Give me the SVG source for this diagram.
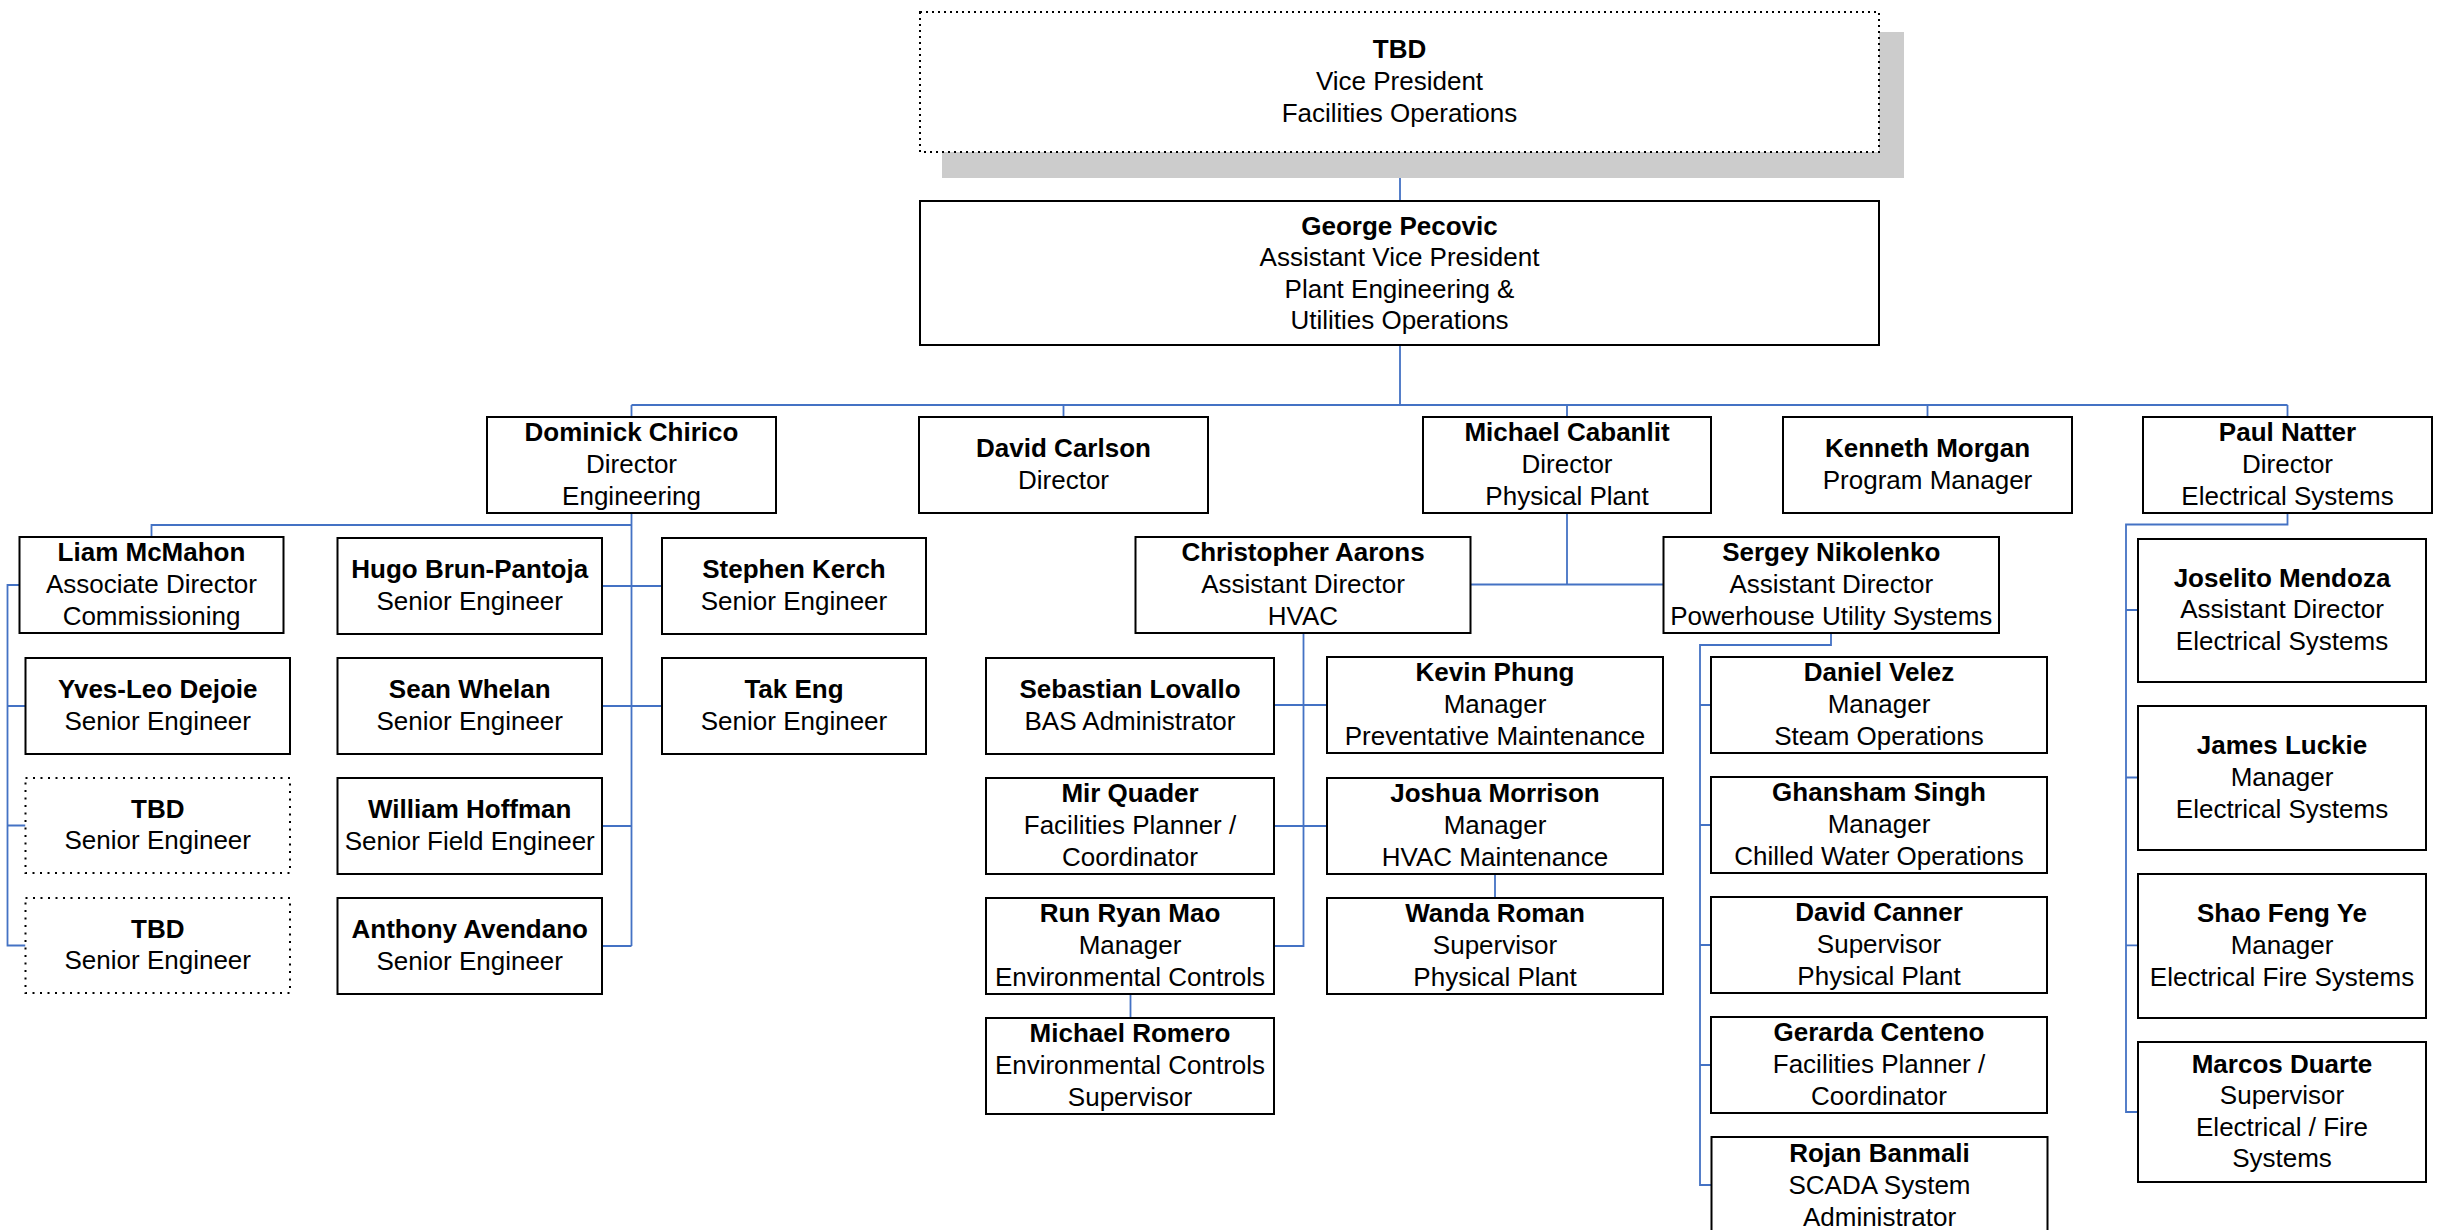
<svg xmlns="http://www.w3.org/2000/svg" width="2446" height="1230" viewBox="0 0 2446 1230">
<style>
.box{fill:#fff;stroke:#000;stroke-width:2}
.dot{fill:#fff;stroke:#000;stroke-width:2;stroke-dasharray:2 5.5}
.vdot{fill:#fff;stroke:#000;stroke-width:2;stroke-dasharray:2 4}
.shadow{fill:#cccccc}
.ln{fill:none;stroke:#4472C4;stroke-width:1.8}
text{font-family:"Liberation Sans",Arial,sans-serif;font-size:26px;text-anchor:middle;fill:#000}
.b{font-weight:bold}
</style>
<rect width="2446" height="1230" fill="#fff"/>
<g id="connectors">
<path class="ln" d="M1400 152V201M1400 345V405M631.5 405H2287.5M631.5 405V417M1063.5 405V417M1567 405V417M1927.5 405V417M2287.5 405V417"/>
<path class="ln" d="M631.5 513V946M631.5 525H151.5V537M602 586H662M602 706H662M602 826H631.5M602 946H631.5"/>
<path class="ln" d="M19.5 585H7.5V945.5H25.5M7.5 706H25.5M7.5 825.5H25.5"/>
<path class="ln" d="M1567 513V584.5M1470.5 584.5H1663.5"/>
<path class="ln" d="M1303.5 633V946H1274M1274 705H1327M1274 826H1327M1495 874V898M1130.5 994V1018"/>
<path class="ln" d="M1831 633V645H1700V1185H1711.5M1700 705H1711M1700 825H1711M1700 945H1711M1700 1065H1711"/>
<path class="ln" d="M2287.5 513V524.5H2126V1112H2138M2126 610H2138M2126 777.5H2138M2126 945.3H2138"/>
</g>
<g id="vp">
<rect class="shadow" x="942" y="32" width="962" height="146"/>
<rect class="vdot" x="920" y="12" width="959" height="140"/>
<text x="1399.5" y="58.4" class="b">TBD</text>
<text x="1399.5" y="90">Vice President</text>
<text x="1399.5" y="121.6">Facilities Operations</text>
</g>
<g id="george">
<rect class="box" x="920" y="201" width="959" height="144"/>
<text x="1399.5" y="234.6" class="b">George Pecovic</text>
<text x="1399.5" y="266.2">Assistant Vice President</text>
<text x="1399.5" y="297.8">Plant Engineering &amp;</text>
<text x="1399.5" y="329.4">Utilities Operations</text>
</g>
<g id="dominick">
<rect class="box" x="487" y="417" width="289" height="96"/>
<text x="631.5" y="441.4" class="b">Dominick Chirico</text>
<text x="631.5" y="473">Director</text>
<text x="631.5" y="504.6">Engineering</text>
</g>
<g id="carlson">
<rect class="box" x="919" y="417" width="289" height="96"/>
<text x="1063.5" y="457.2" class="b">David Carlson</text>
<text x="1063.5" y="488.8">Director</text>
</g>
<g id="cabanlit">
<rect class="box" x="1423" y="417" width="288" height="96"/>
<text x="1567" y="441.4" class="b">Michael Cabanlit</text>
<text x="1567" y="473">Director</text>
<text x="1567" y="504.6">Physical Plant</text>
</g>
<g id="morgan">
<rect class="box" x="1783" y="417" width="289" height="96"/>
<text x="1927.5" y="457.2" class="b">Kenneth Morgan</text>
<text x="1927.5" y="488.8">Program Manager</text>
</g>
<g id="natter">
<rect class="box" x="2143" y="417" width="289" height="96"/>
<text x="2287.5" y="441.4" class="b">Paul Natter</text>
<text x="2287.5" y="473">Director</text>
<text x="2287.5" y="504.6">Electrical Systems</text>
</g>
<g id="mcmahon">
<rect class="box" x="19.5" y="537" width="264" height="96"/>
<text x="151.5" y="561.4" class="b">Liam McMahon</text>
<text x="151.5" y="593">Associate Director</text>
<text x="151.5" y="624.6">Commissioning</text>
</g>
<g id="dejoie">
<rect class="box" x="25.5" y="658" width="264.5" height="96"/>
<text x="157.75" y="698.2" class="b">Yves-Leo Dejoie</text>
<text x="157.75" y="729.8">Senior Engineer</text>
</g>
<g id="tbd1">
<rect class="dot" x="25.5" y="778" width="264.5" height="95"/>
<text x="157.75" y="817.7" class="b">TBD</text>
<text x="157.75" y="849.3">Senior Engineer</text>
</g>
<g id="tbd2">
<rect class="dot" x="25.5" y="898" width="264.5" height="95"/>
<text x="157.75" y="937.7" class="b">TBD</text>
<text x="157.75" y="969.3">Senior Engineer</text>
</g>
<g id="brun-pantoja">
<rect class="box" x="337.5" y="538" width="264.5" height="96"/>
<text x="469.75" y="578.2" class="b">Hugo Brun-Pantoja</text>
<text x="469.75" y="609.8">Senior Engineer</text>
</g>
<g id="whelan">
<rect class="box" x="337.5" y="658" width="264.5" height="96"/>
<text x="469.75" y="698.2" class="b">Sean Whelan</text>
<text x="469.75" y="729.8">Senior Engineer</text>
</g>
<g id="hoffman">
<rect class="box" x="337.5" y="778" width="264.5" height="96"/>
<text x="469.75" y="818.2" class="b">William Hoffman</text>
<text x="469.75" y="849.8">Senior Field Engineer</text>
</g>
<g id="avendano">
<rect class="box" x="337.5" y="898" width="264.5" height="96"/>
<text x="469.75" y="938.2" class="b">Anthony Avendano</text>
<text x="469.75" y="969.8">Senior Engineer</text>
</g>
<g id="kerch">
<rect class="box" x="662" y="538" width="264" height="96"/>
<text x="794" y="578.2" class="b">Stephen Kerch</text>
<text x="794" y="609.8">Senior Engineer</text>
</g>
<g id="eng">
<rect class="box" x="662" y="658" width="264" height="96"/>
<text x="794" y="698.2" class="b">Tak Eng</text>
<text x="794" y="729.8">Senior Engineer</text>
</g>
<g id="aarons">
<rect class="box" x="1135.5" y="537" width="335" height="96"/>
<text x="1303" y="561.4" class="b">Christopher Aarons</text>
<text x="1303" y="593">Assistant Director</text>
<text x="1303" y="624.6">HVAC</text>
</g>
<g id="nikolenko">
<rect class="box" x="1663.5" y="537" width="335.5" height="96"/>
<text x="1831.25" y="561.4" class="b">Sergey Nikolenko</text>
<text x="1831.25" y="593">Assistant Director</text>
<text x="1831.25" y="624.6">Powerhouse Utility Systems</text>
</g>
<g id="lovallo">
<rect class="box" x="986" y="658" width="288" height="96"/>
<text x="1130" y="698.2" class="b">Sebastian Lovallo</text>
<text x="1130" y="729.8">BAS Administrator</text>
</g>
<g id="phung">
<rect class="box" x="1327" y="657" width="336" height="96"/>
<text x="1495" y="681.4" class="b">Kevin Phung</text>
<text x="1495" y="713">Manager</text>
<text x="1495" y="744.6">Preventative Maintenance</text>
</g>
<g id="quader">
<rect class="box" x="986" y="778" width="288" height="96"/>
<text x="1130" y="802.4" class="b">Mir Quader</text>
<text x="1130" y="834">Facilities Planner /</text>
<text x="1130" y="865.6">Coordinator</text>
</g>
<g id="morrison">
<rect class="box" x="1327" y="778" width="336" height="96"/>
<text x="1495" y="802.4" class="b">Joshua Morrison</text>
<text x="1495" y="834">Manager</text>
<text x="1495" y="865.6">HVAC Maintenance</text>
</g>
<g id="mao">
<rect class="box" x="986" y="898" width="288" height="96"/>
<text x="1130" y="922.4" class="b">Run Ryan Mao</text>
<text x="1130" y="954">Manager</text>
<text x="1130" y="985.6">Environmental Controls</text>
</g>
<g id="roman">
<rect class="box" x="1327" y="898" width="336" height="96"/>
<text x="1495" y="922.4" class="b">Wanda Roman</text>
<text x="1495" y="954">Supervisor</text>
<text x="1495" y="985.6">Physical Plant</text>
</g>
<g id="romero">
<rect class="box" x="986" y="1018" width="288" height="96"/>
<text x="1130" y="1042.4" class="b">Michael Romero</text>
<text x="1130" y="1074">Environmental Controls</text>
<text x="1130" y="1105.6">Supervisor</text>
</g>
<g id="velez">
<rect class="box" x="1711" y="657" width="336" height="96"/>
<text x="1879" y="681.4" class="b">Daniel Velez</text>
<text x="1879" y="713">Manager</text>
<text x="1879" y="744.6">Steam Operations</text>
</g>
<g id="singh">
<rect class="box" x="1711" y="777" width="336" height="96"/>
<text x="1879" y="801.4" class="b">Ghansham Singh</text>
<text x="1879" y="833">Manager</text>
<text x="1879" y="864.6">Chilled Water Operations</text>
</g>
<g id="canner">
<rect class="box" x="1711" y="897" width="336" height="96"/>
<text x="1879" y="921.4" class="b">David Canner</text>
<text x="1879" y="953">Supervisor</text>
<text x="1879" y="984.6">Physical Plant</text>
</g>
<g id="centeno">
<rect class="box" x="1711" y="1017" width="336" height="96"/>
<text x="1879" y="1041.4" class="b">Gerarda Centeno</text>
<text x="1879" y="1073">Facilities Planner /</text>
<text x="1879" y="1104.6">Coordinator</text>
</g>
<g id="banmali">
<rect class="box" x="1711.5" y="1137" width="336" height="96"/>
<text x="1879.5" y="1162.4" class="b">Rojan Banmali</text>
<text x="1879.5" y="1194">SCADA System</text>
<text x="1879.5" y="1225.6">Administrator</text>
</g>
<g id="mendoza">
<rect class="box" x="2138" y="539" width="288" height="143"/>
<text x="2282" y="586.7" class="b">Joselito Mendoza</text>
<text x="2282" y="618.3">Assistant Director</text>
<text x="2282" y="649.9">Electrical Systems</text>
</g>
<g id="luckie">
<rect class="box" x="2138" y="706" width="288" height="144"/>
<text x="2282" y="754.4" class="b">James Luckie</text>
<text x="2282" y="786">Manager</text>
<text x="2282" y="817.6">Electrical Systems</text>
</g>
<g id="ye">
<rect class="box" x="2138" y="874" width="288" height="144"/>
<text x="2282" y="922.4" class="b">Shao Feng Ye</text>
<text x="2282" y="954">Manager</text>
<text x="2282" y="985.6">Electrical Fire Systems</text>
</g>
<g id="duarte">
<rect class="box" x="2138" y="1042" width="288" height="140"/>
<text x="2282" y="1072.6" class="b">Marcos Duarte</text>
<text x="2282" y="1104.2">Supervisor</text>
<text x="2282" y="1135.8">Electrical / Fire</text>
<text x="2282" y="1167.4">Systems</text>
</g>
</svg>
